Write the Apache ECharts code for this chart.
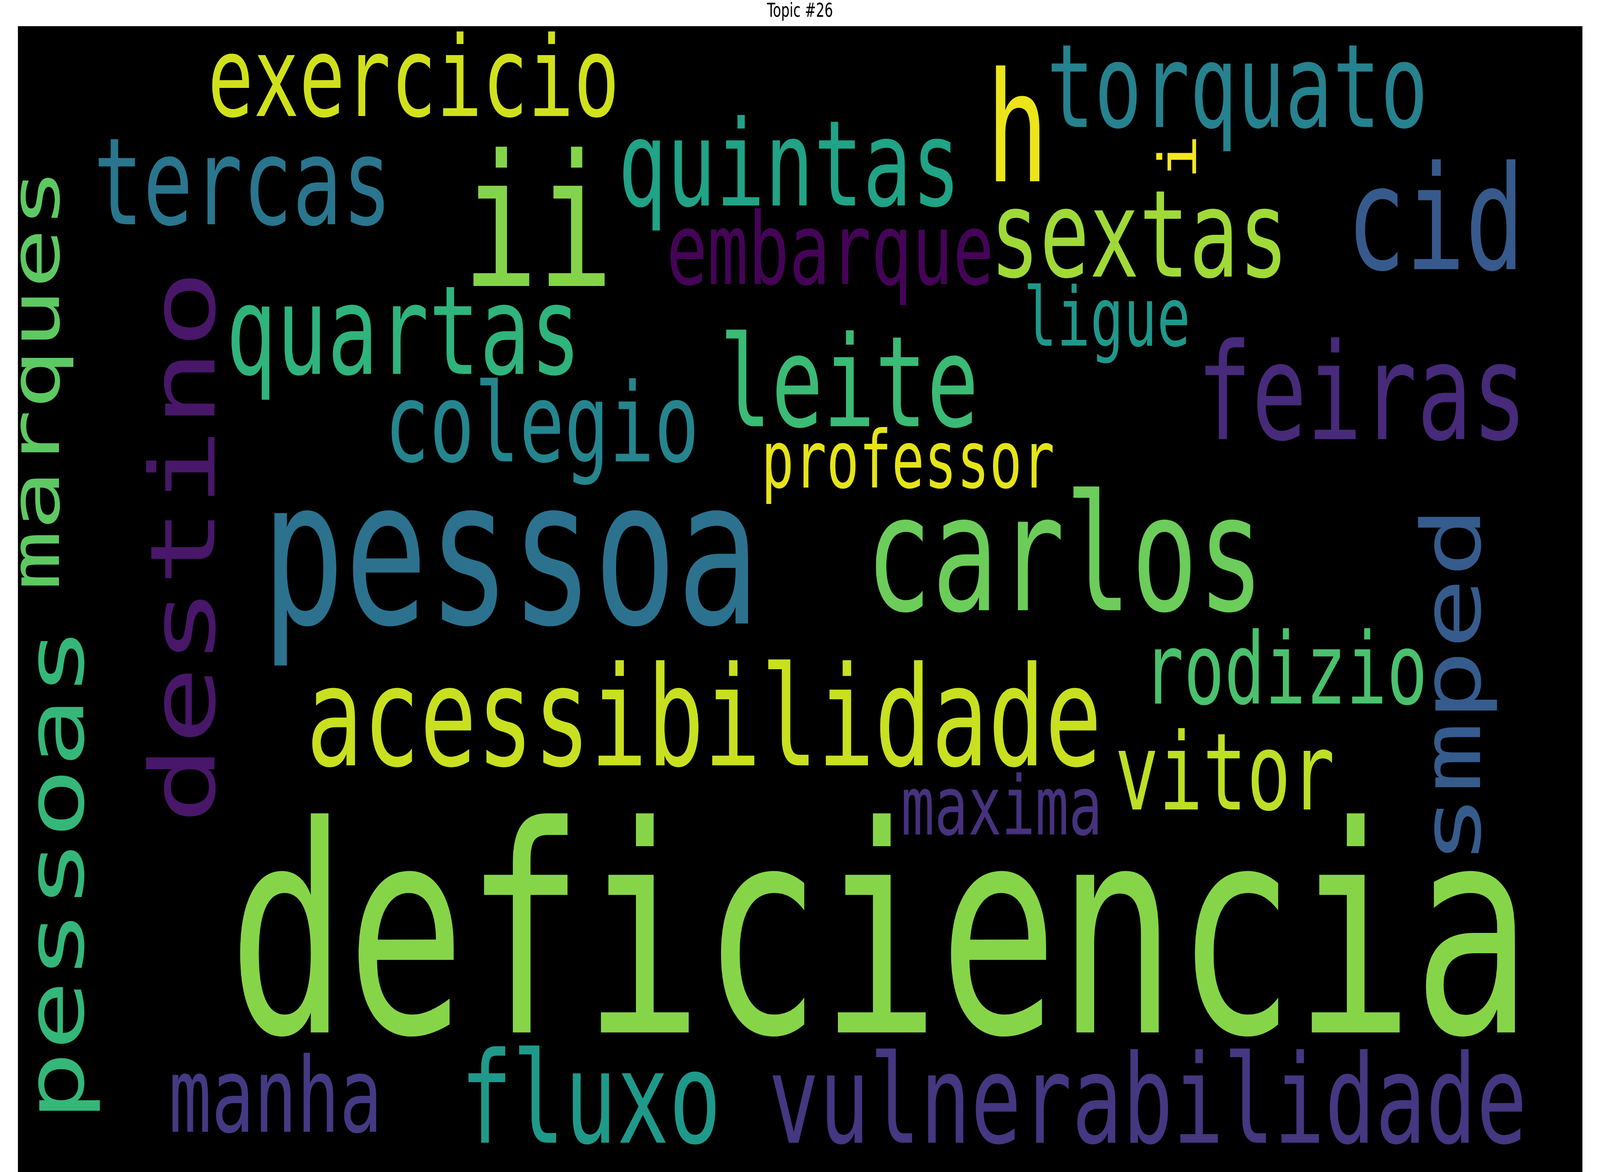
<!DOCTYPE html>
<html>
<head>
<meta charset="utf-8">
<script src="https://cdn.jsdelivr.net/npm/echarts@6/dist/echarts.min.js"></script>
<style>
html,body{margin:0;padding:0;background:#fff;overflow:hidden;}
#chart{width:6000px;height:3000px;transform-origin:0 0;}
</style>
</head>
<body>
<div id="chart"></div>
<script>
// Words of the topic and their font sizes (px on the 6000x3000 canvas)
const words = ['deficiencia','pessoa','ii','carlos','h','cid','acessibilidade','feiras','destino','leite',
  'fluxo','quartas','vulnerabilidade','sextas','smped','tercas','quintas','pessoas','torquato','exercicio',
  'colegio','vitor','manha','marques','embarque','rodizio','maxima','ligue','professor','i'];
const fontSizes = [738,517,469,414,390,370,354,343,337,323,
  325,316,315,310,306,310,305,301,297,285,
  280,274,266,257,255,253,209,208,203,196];
const colors = ['#86d549','#2c728e','#84d44b','#6ccd5a','#ece51b','#375a8c','#c8e020','#472a7a','#481769','#3bbb75',
  '#1f9a8a','#2fb47c','#453781','#a0da39','#365c8d','#2a768e','#20a386','#35b779','#26828e','#d0e11c',
  '#25858e','#bddf26','#443a83','#5ec962','#450457','#4ac16d','#46327e','#1f988b','#e5e419','#f6e620'];
// Layout (cloud pixels, origin at top-left of the black panel)
// horizontal words: posX = centre, posY = baseline; vertical words: posX = baseline, posY = centre
const posX = [3233,1848,1950,3926,3748,5316,2573,5040,737,3117,
  2148,1446,4237,4205,5483,843,2893,245,4573,1484,
  1965,4526,966,154,3046,4753,3689,4084,3338,4418];
const posY = [2576,1529,665,1495,397,622,1892,1057,1333,1024,
  2858,890,2858,641,1688,507,459,2170,258,230,
  1114,2005,2830,904,660,1734,2069,818,1181,335];
const vertical = [0,0,0,0,0,0,0,0,1,0,
  0,0,0,0,1,0,0,1,0,0,
  0,0,0,1,0,0,0,0,0,1];

const PAGE_W = 6000, PAGE_H = 3000;
const PANEL_W = 5867, PANEL_H = 2933;
const MID = 0.26; // distance (em) from the 'middle' text baseline to the alphabetic baseline

// fit the 6000x3000 drawing into the actual window
const el = document.getElementById('chart');
const sx = (window.innerWidth || PAGE_W) / PAGE_W, sy = (window.innerHeight || PAGE_H) / PAGE_H;
el.style.transform = 'scale(' + sx + ',' + sy + ')';

const data = words.map((w, i) => {
  const fs = fontSizes[i];
  let x = posX[i], y = posY[i];
  if (vertical[i]) x -= MID * fs; else y -= MID * fs;
  return {
    value: [x, y],
    name: w,
    label: {show: true, formatter: w, fontSize: fs, color: colors[i], rotate: vertical[i] ? 90 : 0}
  };
});

const chart = echarts.init(el, null, {renderer: 'canvas', width: PAGE_W, height: PAGE_H});
chart.setOption({
  animation: false,
  backgroundColor: '#ffffff',
  title: {
    text: 'Topic #26',
    left: 'center',
    top: 5,
    padding: 0,
    textStyle: {fontFamily: 'DejaVu Sans', fontSize: 50, fontWeight: 'normal', color: '#000'}
  },
  grid: {left: 67, right: 66, top: 67, bottom: 0, show: true, backgroundColor: '#000000', borderWidth: 0},
  xAxis: {type: 'value', min: 0, max: PANEL_W, show: false},
  yAxis: {type: 'value', min: 0, max: PANEL_H, inverse: true, show: false},
  series: [{
    type: 'scatter',
    silent: true,
    symbolSize: 0,
    itemStyle: {color: 'transparent', opacity: 1},
    label: {
      show: true,
      position: 'inside',
      align: 'center',
      verticalAlign: 'middle',
      fontFamily: 'DejaVu Sans Mono',
      fontWeight: 'normal',
      opacity: 1
    },
    data: data
  }]
});
</script>
</body>
</html>
